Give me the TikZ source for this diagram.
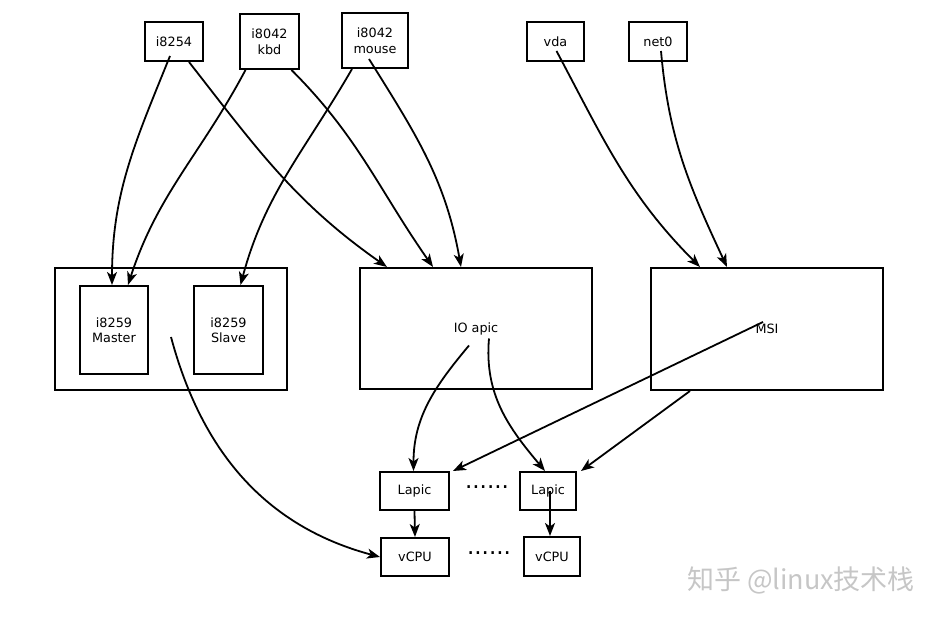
\documentclass[tikz,border=0pt]{standalone}
\usepackage{fontspec}
\setmainfont{DejaVu Sans}
\newfontfamily\cjk{Noto Sans CJK SC}
\usetikzlibrary{positioning,arrows.meta,shapes}

\begin{document}
\begin{tikzpicture}[x=1pt, y=1pt, line width=2pt,
   box/.style={draw, rectangle, inner sep=0pt, align=center, font=\fontsize{12.8}{15.5}\selectfont},
   link/.style={-{Stealth[length=13pt,width=10pt,inset=3.5pt]}, line width=1.8pt}]
\useasboundingbox (0,0) rectangle (943,618);
% sources
\node[box, minimum width=58, minimum height=39] (i8254) at (174,576.5) {i8254};
\node[box, minimum width=59, minimum height=55] (kbd) at (269.5,576.5) {i8042\\kbd};
\node[box, minimum width=66, minimum height=55] (mouse) at (375,577.5) {i8042\\mouse};
\node[box, minimum width=57, minimum height=39] (vda) at (555.5,576.5) {vda};
\node[box, minimum width=58, minimum height=39] (net) at (658,576.5) {net0};
% controllers
\node[box, minimum width=232, minimum height=122] (pic) at (171,289) {};
\node[box, minimum width=68, minimum height=88] (master) at (114,288) {i8259\\Master};
\node[box, minimum width=69, minimum height=88] (slave) at (228.5,288) {i8259\\Slave};
\node[box, minimum width=232, minimum height=121] (ioapic) at (476,289.5) {IO apic};
\node[box, minimum width=232, minimum height=122] (msi) at (767,289) {MSI};
% cpus
\node[box, minimum width=69, minimum height=38] (lapicA) at (414.5,127) {Lapic};
\node[box, minimum width=56, minimum height=38] (lapicB) at (548,127) {Lapic};
\node[box, minimum width=68, minimum height=38] (vcpuA) at (415,61) {vCPU};
\node[box, minimum width=56, minimum height=39] (vcpuB) at (552,61.5) {vCPU};
\node[font=\fontsize{23}{25}\selectfont, inner sep=0pt] (dotsA) at (487,131) {......};
\node[font=\fontsize{23}{25}\selectfont, inner sep=0pt] (dotsB) at (489,65) {......};
\node[font=\cjk\fontsize{27}{31}\selectfont, text=gray!45] (mark) at (801,38) {知乎 @linux技术栈};

\draw[link] ([xshift=-4pt,yshift=6pt]i8254.south) to[out=-112,in=90] ([xshift=-2pt]master.north);
\draw[link] ([xshift=15pt]i8254.south) to[out=-52,in=145] ([xshift=-89pt]ioapic.north);
\draw[link] ([xshift=-24pt]kbd.south) to[out=-118,in=72] ([xshift=14pt]master.north);
\draw[link] ([xshift=22pt]kbd.south) to[out=-45,in=125] ([xshift=-43pt]ioapic.north);
\draw[link] ([xshift=-23pt]mouse.south) to[out=-120,in=75] ([xshift=12pt]slave.north);
\draw[link] ([xshift=-6pt,yshift=10pt]mouse.south) to[out=-58,in=100] ([xshift=-15pt]ioapic.north);
\draw[link] ([xshift=1pt,yshift=11pt]vda.south) to[out=-62,in=135] ([xshift=-67pt]msi.north);
\draw[link] ([xshift=3pt,yshift=11pt]net.south) to[out=-85,in=115] ([xshift=-40pt]msi.north);
\draw[link] ([xshift=-7pt,yshift=-17pt]ioapic.center) to[out=-130,in=90] ([xshift=-1pt]lapicA.north);
\draw[link] ([xshift=13pt,yshift=-10pt]ioapic.center) to[out=-95,in=130] ([xshift=-3pt]lapicB.north);
\draw[link] ([xshift=-4pt,yshift=7pt]msi.center) -- ([xshift=3pt]lapicA.north east);
\draw[link] ([xshift=-77pt]msi.south) -- ([xshift=4pt]lapicB.north east);
\draw[link] ([yshift=-8pt]pic.center) to[out=-75,in=165] (vcpuA.west);
\draw[link] (lapicA.south) -- (vcpuA.north);
\draw[link] ([xshift=2pt]lapicB.center) -- ([xshift=-2pt]vcpuB.north);
\end{tikzpicture}
\end{document}
